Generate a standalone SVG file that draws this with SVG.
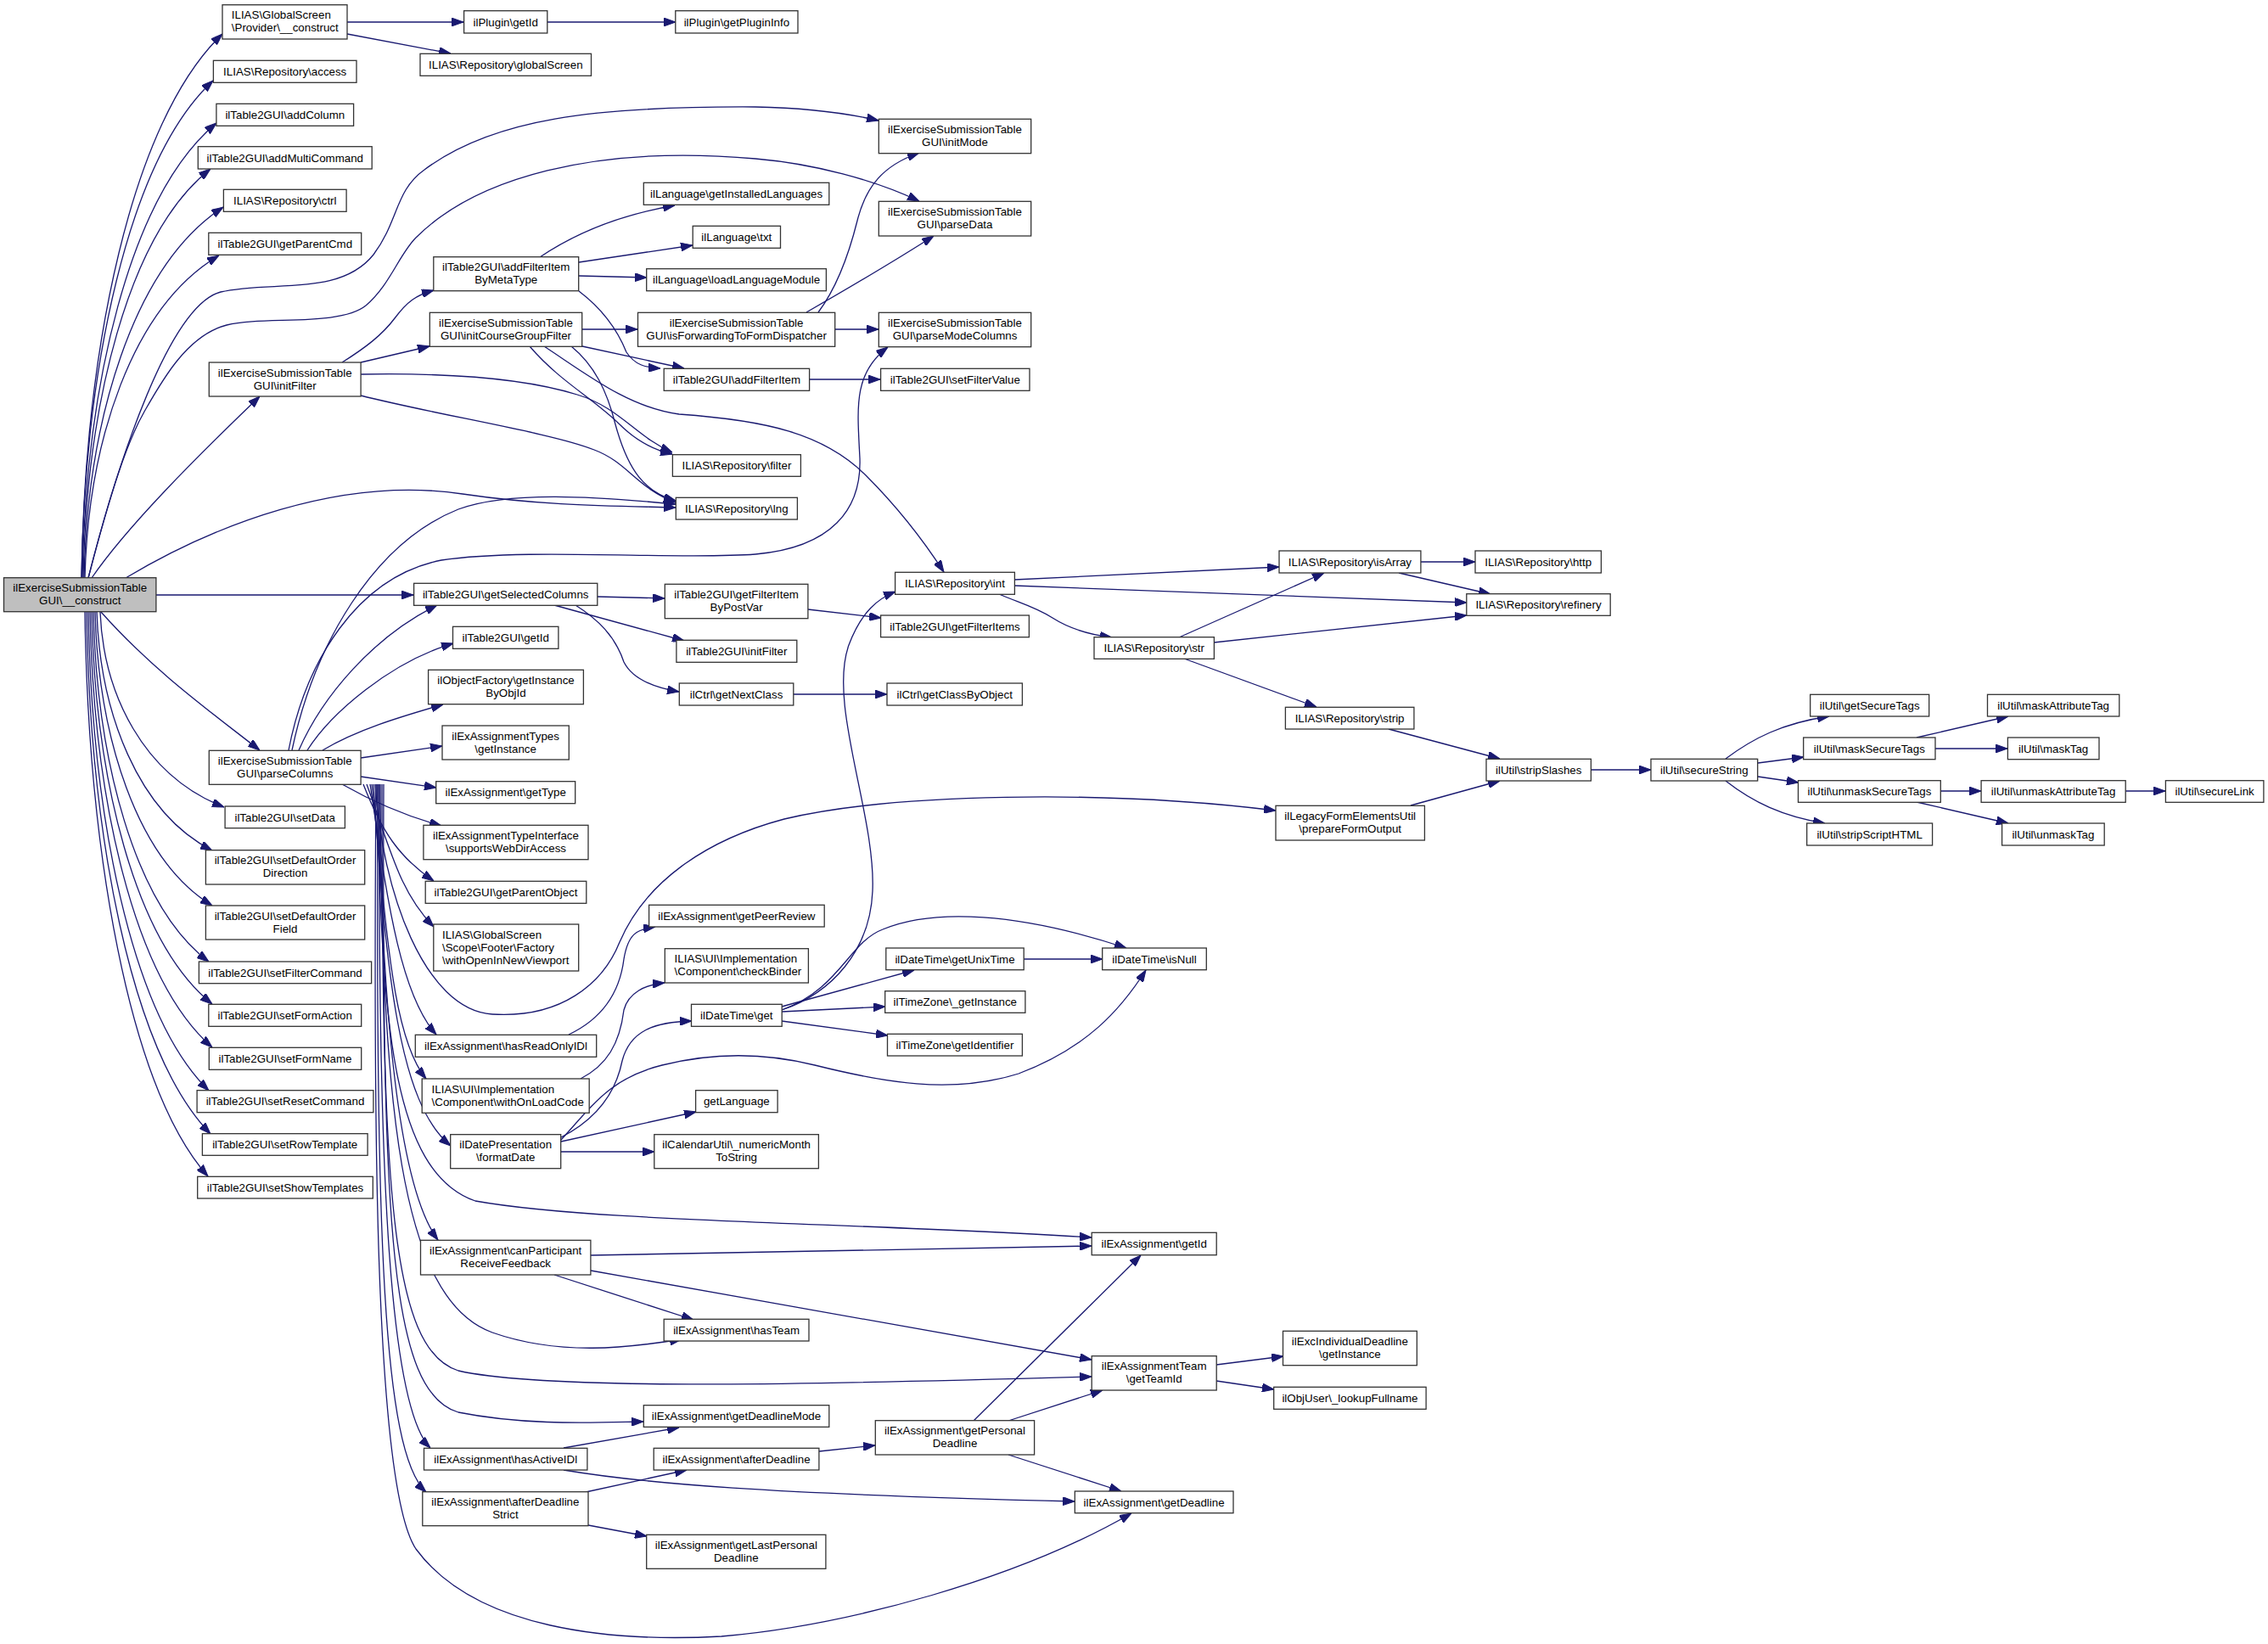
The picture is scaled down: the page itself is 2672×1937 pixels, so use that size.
<svg xmlns="http://www.w3.org/2000/svg" width="2672" height="1937" viewBox="0 0 2672 1937">
<style>
.node rect{fill:#fff;stroke:#333;stroke-width:1.3}
.node.root rect{fill:#bfbfbf}
.node text{font-family:"Liberation Sans",Arial,Helvetica,sans-serif;font-size:13.33px;fill:#000;text-anchor:middle}
.node text.l{text-anchor:start}
.edges path{fill:none;stroke:#191970;stroke-width:1.3;marker-end:url(#ah)}
</style>
<defs>
<marker id="ah" markerUnits="userSpaceOnUse" markerWidth="14" markerHeight="10" refX="14" refY="5" orient="auto" viewBox="0 0 14 10"><path d="M0,0 L14,5 L0,10 z" fill="#191970" stroke="#191970" stroke-width="1"/></marker>
</defs>
<rect x="0" y="0" width="2672" height="1937" fill="#fff"/>
<g class="edges">
<path d="M96,681 C100,412 154,143 262,40"/>
<path d="M96,681 C100,435 150,189 251,95"/>
<path d="M97,681 C101,456 152,231 255,145"/>
<path d="M98,681 C102,479 150,276 248,199"/>
<path d="M99,681 C103,497 156,314 263,244"/>
<path d="M100,681 C104,521 155,362 258,301"/>
<path d="M104,681 C140,540 200,360 260,344 C320,330 400,350 440,300 C470,260 465,225 500,200 C580,140 700,125 890,126 C950,127 1000,134 1035,142"/>
<path d="M104,681 C130,580 150,520 170,485 C190,450 220,395 267,383 C310,372 400,385 431,360 C460,335 470,300 490,280 C560,210 700,170 890,187 C960,193 1030,212 1083,237"/>
<path d="M108,681 C150,620 230,540 306,467"/>
<path d="M148,681 C250,620 400,560 545,582 C640,596 720,596 796,598"/>
<path d="M184,701 L487,701"/>
<path d="M119,721 C180,790 250,840 306,884"/>
<path d="M118,721 C122,818 169,914 264,951"/>
<path d="M114,721 C118,839 162,957 250,1002"/>
<path d="M112,721 C116,866 160,1012 250,1067"/>
<path d="M110,721 C114,894 158,1067 246,1133"/>
<path d="M108,721 C112,915 158,1109 250,1183"/>
<path d="M106,721 C110,936 156,1152 250,1234"/>
<path d="M104,721 C108,958 154,1195 246,1285"/>
<path d="M102,721 C106,979 153,1238 248,1336"/>
<path d="M100,721 C104,1000 151,1280 245,1386"/>
<path d="M409,26 L546,26"/>
<path d="M409,40 L531,63"/>
<path d="M645,26 L796,26"/>
<path d="M403,427 C430,410 450,395 465,375 C480,355 490,348 511,342"/>
<path d="M425,427 L506,408"/>
<path d="M425,441 C480,440 600,440 680,465 C730,480 750,515 792,533"/>
<path d="M425,466 C520,490 650,510 700,530 C740,545 750,575 796,592"/>
<path d="M636,303 C670,280 720,255 795,242"/>
<path d="M682,309 L816,289"/>
<path d="M682,325 L762,327"/>
<path d="M682,343 C715,368 730,395 738,415 C748,430 760,433 778,434"/>
<path d="M686,388 L751,388"/>
<path d="M686,408 L806,434"/>
<path d="M624,408 C660,450 700,470 730,500 C750,520 770,530 792,535"/>
<path d="M673,408 C700,430 715,460 725,500 C740,555 760,580 796,590"/>
<path d="M641,408 C690,440 740,480 800,488 C900,495 970,510 1020,560 C1060,600 1090,640 1112,674"/>
<path d="M964,368 C985,340 1000,300 1010,260 C1020,220 1040,195 1083,180"/>
<path d="M950,368 C990,345 1050,310 1100,278"/>
<path d="M984,388 L1035,388"/>
<path d="M954,447 L1037,447"/>
<path d="M704,703 L783,705"/>
<path d="M653,713 L806,755"/>
<path d="M678,713 C705,730 725,750 735,780 C745,800 770,810 800,815"/>
<path d="M952,718 L1038,728"/>
<path d="M935,818 L1045,818"/>
<path d="M1195,683 L1507,668"/>
<path d="M1195,690 L1728,710"/>
<path d="M1177,700 C1200,710 1220,715 1240,728 C1262,742 1285,748 1310,751"/>
<path d="M1389,751 L1560,675"/>
<path d="M1430,757 L1728,725"/>
<path d="M1395,776 L1551,833"/>
<path d="M1674,662 L1738,662"/>
<path d="M1648,675 L1756,700"/>
<path d="M1636,859 L1767,894"/>
<path d="M1662,949 L1767,920"/>
<path d="M1874,907 L1945,907"/>
<path d="M2033,894 C2065,870 2100,852 2155,844"/>
<path d="M2071,899 L2125,892"/>
<path d="M2071,915 L2119,922"/>
<path d="M2033,920 C2065,945 2100,962 2150,970"/>
<path d="M2258,869 L2366,844"/>
<path d="M2280,882 L2365,882"/>
<path d="M2286,932 L2334,932"/>
<path d="M2258,945 L2366,970"/>
<path d="M2504,932 L2551,932"/>
<path d="M344,884 C370,760 440,640 540,600 C600,578 700,585 796,594"/>
<path d="M340,884 C360,780 420,680 520,660 C620,645 800,660 890,653 C980,645 1015,600 1013,540 C1010,480 1005,440 1046,409"/>
<path d="M352,884 C380,820 440,750 515,713"/>
<path d="M362,884 C390,840 460,780 534,758"/>
<path d="M380,884 C420,860 470,845 522,830"/>
<path d="M425,893 L521,879"/>
<path d="M425,915 L514,928"/>
<path d="M403,924 C440,945 480,962 520,973"/>
<path d="M428,924 C450,980 470,1010 511,1038"/>
<path d="M432,924 C460,1000 470,1050 511,1092"/>
<path d="M436,924 C455,1050 470,1170 514,1219"/>
<path d="M438,924 C455,1080 460,1220 502,1271"/>
<path d="M440,924 C455,1150 470,1300 531,1350"/>
<path d="M442,924 C450,1050 500,1190 580,1195 C660,1200 710,1160 730,1110 C760,1040 830,990 924,965 C1050,935 1300,930 1503,955"/>
<path d="M444,924 C450,1200 460,1380 560,1415 C700,1440 1000,1440 1286,1458"/>
<path d="M446,924 C450,1200 470,1400 516,1461"/>
<path d="M448,924 C450,1300 470,1530 580,1570 C660,1598 740,1588 803,1578"/>
<path d="M450,924 C450,1400 460,1590 540,1615 C650,1640 1000,1630 1286,1622"/>
<path d="M452,924 C450,1450 460,1640 540,1664 C620,1680 700,1676 758,1675"/>
<path d="M447,924 C445,1400 460,1660 507,1706"/>
<path d="M445,924 C443,1450 450,1710 502,1758"/>
<path d="M443,924 C440,1300 440,1750 490,1825 C560,1920 720,1935 850,1928 C1000,1915 1200,1860 1333,1783"/>
<path d="M670,1219 C710,1200 730,1170 735,1130 C740,1100 750,1095 772,1092"/>
<path d="M684,1271 C715,1255 730,1230 735,1190 C740,1170 760,1160 783,1158"/>
<path d="M661,1340 C700,1320 725,1290 733,1250 C742,1215 770,1204 815,1203"/>
<path d="M661,1343 C700,1300 720,1270 780,1255 C840,1240 900,1240 960,1255 C1040,1275 1120,1290 1200,1265 C1280,1235 1320,1190 1350,1143"/>
<path d="M661,1345 L820,1310"/>
<path d="M661,1357 L771,1357"/>
<path d="M921,1186 L1077,1143"/>
<path d="M921,1190 C990,1165 1000,1110 1040,1095 C1100,1070 1200,1075 1327,1117"/>
<path d="M921,1192 L1043,1186"/>
<path d="M921,1203 L1046,1220"/>
<path d="M921,1190 C980,1170 1025,1120 1028,1050 C1032,960 975,830 1000,760 C1015,720 1035,705 1055,697"/>
<path d="M1206,1130 L1299,1130"/>
<path d="M696,1479 L1286,1468"/>
<path d="M696,1497 L1286,1602"/>
<path d="M653,1502 L817,1555"/>
<path d="M664,1706 L800,1682"/>
<path d="M664,1732 C760,1748 900,1760 1266,1769"/>
<path d="M690,1758 L809,1732"/>
<path d="M693,1797 L762,1810"/>
<path d="M965,1710 L1031,1703"/>
<path d="M1147,1674 L1344,1479"/>
<path d="M1188,1674 L1299,1638"/>
<path d="M1188,1714 L1321,1757"/>
<path d="M1433,1608 L1512,1598"/>
<path d="M1433,1627 L1501,1637"/>
</g>
<g id="n_main" class="node root"><rect x="4.5" y="680.7" width="179.4" height="40"/><text x="94.2" y="697.3">ilExerciseSubmissionTable</text><text x="94.2" y="712.3">GUI\__construct</text></g>
<g id="n_provider" class="node"><rect x="262" y="5.7" width="147" height="40.3"/><text class="l" x="272.8" y="22.3">ILIAS\GlobalScreen</text><text class="l" x="272.8" y="37.3">\Provider\__construct</text></g>
<g id="n_plugin_getId" class="node"><rect x="546.6" y="12.7" width="98.2" height="26.3"/><text x="595.7" y="30.5">ilPlugin\getId</text></g>
<g id="n_getPluginInfo" class="node"><rect x="795.8" y="12.7" width="144.2" height="26.3"/><text x="867.9" y="30.5">ilPlugin\getPluginInfo</text></g>
<g id="n_globalScreen" class="node"><rect x="495" y="63.3" width="201.5" height="26"/><text x="595.8" y="81">ILIAS\Repository\globalScreen</text></g>
<g id="n_access" class="node"><rect x="251.4" y="71.3" width="168.6" height="26"/><text x="335.7" y="89">ILIAS\Repository\access</text></g>
<g id="n_addColumn" class="node"><rect x="254.9" y="122.3" width="161.7" height="26"/><text x="335.8" y="140">ilTable2GUI\addColumn</text></g>
<g id="n_addMultiCommand" class="node"><rect x="233.3" y="172.7" width="204.9" height="26.3"/><text x="335.8" y="190.5">ilTable2GUI\addMultiCommand</text></g>
<g id="n_ctrl" class="node"><rect x="263.4" y="223.3" width="144.7" height="26"/><text x="335.8" y="241">ILIAS\Repository\ctrl</text></g>
<g id="n_getParentCmd" class="node"><rect x="245.8" y="274.3" width="179.9" height="26"/><text x="335.8" y="292">ilTable2GUI\getParentCmd</text></g>
<g id="n_initMode" class="node"><rect x="1035.3" y="140.3" width="179.4" height="40.4"/><text x="1125" y="157">ilExerciseSubmissionTable</text><text x="1125" y="172">GUI\initMode</text></g>
<g id="n_parseData" class="node"><rect x="1035.3" y="237.3" width="179.4" height="40.7"/><text x="1125" y="254">ilExerciseSubmissionTable</text><text x="1125" y="269">GUI\parseData</text></g>
<g id="n_getInstalledLanguages" class="node"><rect x="758.3" y="215.3" width="218.5" height="26"/><text x="867.6" y="233">ilLanguage\getInstalledLanguages</text></g>
<g id="n_txt" class="node"><rect x="816.2" y="266.3" width="103.3" height="26"/><text x="867.8" y="284">ilLanguage\txt</text></g>
<g id="n_loadLanguageModule" class="node"><rect x="761.7" y="316.7" width="211.7" height="26"/><text x="867.6" y="334.4">ilLanguage\loadLanguageModule</text></g>
<g id="n_addFilterItemByMetaType" class="node"><rect x="510.8" y="302.7" width="170.9" height="40"/><text x="596.2" y="319.3">ilTable2GUI\addFilterItem</text><text x="596.2" y="334.3">ByMetaType</text></g>
<g id="n_initCourseGroupFilter" class="node"><rect x="506.3" y="368.3" width="179.4" height="40"/><text x="596" y="385">ilExerciseSubmissionTable</text><text x="596" y="400">GUI\initCourseGroupFilter</text></g>
<g id="n_isForwarding" class="node"><rect x="751.5" y="368.3" width="232.2" height="40"/><text x="867.6" y="385">ilExerciseSubmissionTable</text><text x="867.6" y="400">GUI\isForwardingToFormDispatcher</text></g>
<g id="n_parseModeColumns" class="node"><rect x="1035.3" y="368.3" width="179.4" height="40.4"/><text x="1125" y="385">ilExerciseSubmissionTable</text><text x="1125" y="400">GUI\parseModeColumns</text></g>
<g id="n_addFilterItem" class="node"><rect x="782.2" y="434.3" width="171.4" height="26"/><text x="867.9" y="452">ilTable2GUI\addFilterItem</text></g>
<g id="n_setFilterValue" class="node"><rect x="1037.6" y="434.3" width="175.4" height="26"/><text x="1125.3" y="452">ilTable2GUI\setFilterValue</text></g>
<g id="n_initFilter" class="node"><rect x="246.3" y="427" width="178.8" height="40"/><text x="335.7" y="443.6">ilExerciseSubmissionTable</text><text x="335.7" y="458.6">GUI\initFilter</text></g>
<g id="n_filter" class="node"><rect x="792.4" y="535.7" width="151" height="25.6"/><text x="867.9" y="553.2">ILIAS\Repository\filter</text></g>
<g id="n_lng" class="node"><rect x="796.3" y="586.3" width="143.1" height="25.7"/><text x="867.8" y="603.9">ILIAS\Repository\lng</text></g>
<g id="n_getSelectedColumns" class="node"><rect x="487.6" y="687.3" width="216.2" height="26"/><text x="595.7" y="705">ilTable2GUI\getSelectedColumns</text></g>
<g id="n_getFilterItemByPostVar" class="node"><rect x="783.3" y="688.3" width="168.6" height="40.4"/><text x="867.6" y="705">ilTable2GUI\getFilterItem</text><text x="867.6" y="720">ByPostVar</text></g>
<g id="n_t2_getId" class="node"><rect x="533.5" y="738.3" width="124.4" height="26"/><text x="595.7" y="756">ilTable2GUI\getId</text></g>
<g id="n_t2_initFilter" class="node"><rect x="796.9" y="754.3" width="141.9" height="26"/><text x="867.8" y="772">ilTable2GUI\initFilter</text></g>
<g id="n_getInstanceByObjId" class="node"><rect x="504.6" y="789.3" width="182.8" height="40.4"/><text x="596" y="806">ilObjectFactory\getInstance</text><text x="596" y="821">ByObjId</text></g>
<g id="n_getNextClass" class="node"><rect x="800.3" y="805" width="134.5" height="26"/><text x="867.5" y="822.7">ilCtrl\getNextClass</text></g>
<g id="n_exAssignmentTypes" class="node"><rect x="521" y="855" width="149.3" height="40"/><text x="595.6" y="871.6">ilExAssignmentTypes</text><text x="595.6" y="886.6">\getInstance</text></g>
<g id="n_parseColumns" class="node"><rect x="246.3" y="884.3" width="178.8" height="40"/><text x="335.7" y="901">ilExerciseSubmissionTable</text><text x="335.7" y="916">GUI\parseColumns</text></g>
<g id="n_getType" class="node"><rect x="513.7" y="920.7" width="164" height="26"/><text x="595.7" y="938.4">ilExAssignment\getType</text></g>
<g id="n_setData" class="node"><rect x="265.1" y="950" width="141.3" height="25.7"/><text x="335.7" y="967.6">ilTable2GUI\setData</text></g>
<g id="n_int" class="node"><rect x="1054.6" y="674.3" width="140.8" height="26"/><text x="1125" y="692">ILIAS\Repository\int</text></g>
<g id="n_getFilterItems" class="node"><rect x="1037.6" y="725" width="174.8" height="25.7"/><text x="1125" y="742.6">ilTable2GUI\getFilterItems</text></g>
<g id="n_str" class="node"><rect x="1289" y="750.7" width="141.4" height="25.6"/><text x="1359.7" y="768.2">ILIAS\Repository\str</text></g>
<g id="n_getClassByObject" class="node"><rect x="1045" y="805" width="159.4" height="26"/><text x="1124.7" y="822.7">ilCtrl\getClassByObject</text></g>
<g id="n_isArray" class="node"><rect x="1507" y="649" width="166.9" height="26"/><text x="1590.4" y="666.7">ILIAS\Repository\isArray</text></g>
<g id="n_http" class="node"><rect x="1738" y="649" width="148.4" height="26"/><text x="1812.2" y="666.7">ILIAS\Repository\http</text></g>
<g id="n_refinery" class="node"><rect x="1727.8" y="699.7" width="169.4" height="25.6"/><text x="1812.5" y="717.2">ILIAS\Repository\refinery</text></g>
<g id="n_strip" class="node"><rect x="1514.4" y="833.3" width="151.5" height="25.7"/><text x="1590.1" y="850.9">ILIAS\Repository\strip</text></g>
<g id="n_stripSlashes" class="node"><rect x="1751" y="894.3" width="123.4" height="25.7"/><text x="1812.7" y="911.9">ilUtil\stripSlashes</text></g>
<g id="n_prepareFormOutput" class="node"><rect x="1503" y="949.3" width="175.4" height="40.7"/><text x="1590.7" y="966">ilLegacyFormElementsUtil</text><text x="1590.7" y="981">\prepareFormOutput</text></g>
<g id="n_secureString" class="node"><rect x="1945" y="894.3" width="125.7" height="25.7"/><text x="2007.8" y="911.9">ilUtil\secureString</text></g>
<g id="n_getSecureTags" class="node"><rect x="2132.7" y="818.3" width="140" height="25.7"/><text x="2202.7" y="835.9">ilUtil\getSecureTags</text></g>
<g id="n_maskSecureTags" class="node"><rect x="2124.7" y="869" width="155.3" height="25.7"/><text x="2202.3" y="886.6">ilUtil\maskSecureTags</text></g>
<g id="n_unmaskSecureTags" class="node"><rect x="2118.5" y="919.7" width="167.8" height="25.6"/><text x="2202.4" y="937.2">ilUtil\unmaskSecureTags</text></g>
<g id="n_maskAttributeTag" class="node"><rect x="2341.5" y="818.3" width="155.3" height="25.7"/><text x="2419.1" y="835.9">ilUtil\maskAttributeTag</text></g>
<g id="n_maskTag" class="node"><rect x="2365.4" y="869" width="107.6" height="25.7"/><text x="2419.2" y="886.6">ilUtil\maskTag</text></g>
<g id="n_unmaskAttributeTag" class="node"><rect x="2334.1" y="919.7" width="170.1" height="25.6"/><text x="2419.1" y="937.2">ilUtil\unmaskAttributeTag</text></g>
<g id="n_secureLink" class="node"><rect x="2551.4" y="919.7" width="115.5" height="25.6"/><text x="2609.1" y="937.2">ilUtil\secureLink</text></g>
<g id="n_stripScriptHTML" class="node"><rect x="2128.7" y="970" width="147.9" height="26"/><text x="2202.6" y="987.7">ilUtil\stripScriptHTML</text></g>
<g id="n_unmaskTag" class="node"><rect x="2358.6" y="970" width="120.6" height="26"/><text x="2418.9" y="987.7">ilUtil\unmaskTag</text></g>
<g id="n_supportsWebDirAccess" class="node"><rect x="498.9" y="972.3" width="194.1" height="40.4"/><text x="596" y="989">ilExAssignmentTypeInterface</text><text x="596" y="1004">\supportsWebDirAccess</text></g>
<g id="n_setDefaultOrderDirection" class="node"><rect x="242.4" y="1001.7" width="187.3" height="40.3"/><text x="336" y="1018.3">ilTable2GUI\setDefaultOrder</text><text x="336" y="1033.3">Direction</text></g>
<g id="n_getParentObject" class="node"><rect x="501.2" y="1038.3" width="189.6" height="26"/><text x="596" y="1056">ilTable2GUI\getParentObject</text></g>
<g id="n_setDefaultOrderField" class="node"><rect x="242.4" y="1067" width="187.3" height="40"/><text x="336" y="1083.6">ilTable2GUI\setDefaultOrder</text><text x="336" y="1098.6">Field</text></g>
<g id="n_withOpenInNewViewport" class="node"><rect x="510.8" y="1089" width="170.9" height="55"/><text class="l" x="521" y="1105.5">ILIAS\GlobalScreen</text><text class="l" x="521" y="1120.5">\Scope\Footer\Factory</text><text class="l" x="521" y="1135.5">\withOpenInNewViewport</text></g>
<g id="n_getPeerReview" class="node"><rect x="764.6" y="1066.3" width="206.6" height="25.7"/><text x="867.9" y="1083.9">ilExAssignment\getPeerReview</text></g>
<g id="n_checkBinder" class="node"><rect x="783.3" y="1117.7" width="169.1" height="40.3"/><text class="l" x="794.6" y="1134.3">ILIAS\UI\Implementation</text><text class="l" x="794.6" y="1149.3">\Component\checkBinder</text></g>
<g id="n_setFilterCommand" class="node"><rect x="234.4" y="1133" width="203.2" height="25.7"/><text x="336" y="1150.6">ilTable2GUI\setFilterCommand</text></g>
<g id="n_setFormAction" class="node"><rect x="245.8" y="1183.3" width="179.9" height="26"/><text x="335.7" y="1201">ilTable2GUI\setFormAction</text></g>
<g id="n_dt_get" class="node"><rect x="814.5" y="1183.3" width="106.7" height="26"/><text x="867.8" y="1201">ilDateTime\get</text></g>
<g id="n_hasReadOnlyIDl" class="node"><rect x="489.3" y="1219.3" width="213.4" height="26"/><text x="596" y="1237">ilExAssignment\hasReadOnlyIDl</text></g>
<g id="n_setFormName" class="node"><rect x="246.3" y="1234.3" width="179.4" height="26"/><text x="336" y="1252">ilTable2GUI\setFormName</text></g>
<g id="n_withOnLoadCode" class="node"><rect x="497.2" y="1271" width="197" height="40.3"/><text class="l" x="508.6" y="1287.6">ILIAS\UI\Implementation</text><text class="l" x="508.6" y="1302.6">\Component\withOnLoadCode</text></g>
<g id="n_getLanguage" class="node"><rect x="819.6" y="1284.7" width="96.5" height="26"/><text x="867.8" y="1302.4">getLanguage</text></g>
<g id="n_setResetCommand" class="node"><rect x="232.1" y="1284.7" width="207.8" height="26"/><text x="336" y="1302.4">ilTable2GUI\setResetCommand</text></g>
<g id="n_formatDate" class="node"><rect x="530.7" y="1336.7" width="130" height="40"/><text x="595.7" y="1353.3">ilDatePresentation</text><text x="595.7" y="1368.3">\formatDate</text></g>
<g id="n_numericMonth" class="node"><rect x="770.8" y="1336.7" width="193.6" height="40"/><text x="867.6" y="1353.3">ilCalendarUtil\_numericMonth</text><text x="867.6" y="1368.3">ToString</text></g>
<g id="n_setRowTemplate" class="node"><rect x="238.4" y="1335.7" width="194.7" height="25.6"/><text x="335.7" y="1353.2">ilTable2GUI\setRowTemplate</text></g>
<g id="n_setShowTemplates" class="node"><rect x="232.7" y="1386.3" width="206.6" height="25.7"/><text x="336" y="1403.9">ilTable2GUI\setShowTemplates</text></g>
<g id="n_getUnixTime" class="node"><rect x="1043.8" y="1117" width="162.4" height="25.7"/><text x="1125" y="1134.6">ilDateTime\getUnixTime</text></g>
<g id="n_isNull" class="node"><rect x="1298.7" y="1117" width="122.6" height="25.7"/><text x="1360" y="1134.6">ilDateTime\isNull</text></g>
<g id="n_tz_getInstance" class="node"><rect x="1042.7" y="1167.7" width="165.2" height="25.6"/><text x="1125.3" y="1185.2">ilTimeZone\_getInstance</text></g>
<g id="n_getIdentifier" class="node"><rect x="1045.5" y="1218.3" width="158.9" height="25.7"/><text x="1125" y="1235.9">ilTimeZone\getIdentifier</text></g>
<g id="n_canParticipant" class="node"><rect x="495.5" y="1461.3" width="200.4" height="40.7"/><text x="595.7" y="1478">ilExAssignment\canParticipant</text><text x="595.7" y="1493">ReceiveFeedback</text></g>
<g id="n_hasTeam" class="node"><rect x="782.2" y="1554.3" width="170.8" height="25.7"/><text x="867.6" y="1571.9">ilExAssignment\hasTeam</text></g>
<g id="n_getDeadlineMode" class="node"><rect x="758.3" y="1655.7" width="218.5" height="25.6"/><text x="867.5" y="1673.2">ilExAssignment\getDeadlineMode</text></g>
<g id="n_hasActiveIDl" class="node"><rect x="499.5" y="1706.3" width="192.4" height="25.7"/><text x="595.7" y="1723.9">ilExAssignment\hasActiveIDl</text></g>
<g id="n_afterDeadline" class="node"><rect x="770.2" y="1706.3" width="194.7" height="25.7"/><text x="867.5" y="1723.9">ilExAssignment\afterDeadline</text></g>
<g id="n_afterDeadlineStrict" class="node"><rect x="497.8" y="1757.7" width="195.2" height="40"/><text x="595.4" y="1774.3">ilExAssignment\afterDeadline</text><text x="595.4" y="1789.3">Strict</text></g>
<g id="n_getLastPersonalDeadline" class="node"><rect x="761.7" y="1808.3" width="211.2" height="40"/><text x="867.3" y="1824.9">ilExAssignment\getLastPersonal</text><text x="867.3" y="1839.9">Deadline</text></g>
<g id="n_ea_getId" class="node"><rect x="1286.2" y="1452.3" width="147" height="26.4"/><text x="1359.7" y="1470.2">ilExAssignment\getId</text></g>
<g id="n_getTeamId" class="node"><rect x="1286.2" y="1597.7" width="147" height="40.3"/><text x="1359.7" y="1614.3">ilExAssignmentTeam</text><text x="1359.7" y="1629.3">\getTeamId</text></g>
<g id="n_excIndividual" class="node"><rect x="1511.5" y="1568.3" width="157.8" height="40.4"/><text x="1590.4" y="1585">ilExcIndividualDeadline</text><text x="1590.4" y="1600">\getInstance</text></g>
<g id="n_lookupFullname" class="node"><rect x="1500.7" y="1634.3" width="179.4" height="26"/><text x="1590.4" y="1652">ilObjUser\_lookupFullname</text></g>
<g id="n_getPersonalDeadline" class="node"><rect x="1031.3" y="1673.7" width="187.3" height="40.3"/><text x="1125" y="1690.3">ilExAssignment\getPersonal</text><text x="1125" y="1705.3">Deadline</text></g>
<g id="n_getDeadline" class="node"><rect x="1266.3" y="1757" width="186.7" height="25.7"/><text x="1359.6" y="1774.6">ilExAssignment\getDeadline</text></g>
</svg>
